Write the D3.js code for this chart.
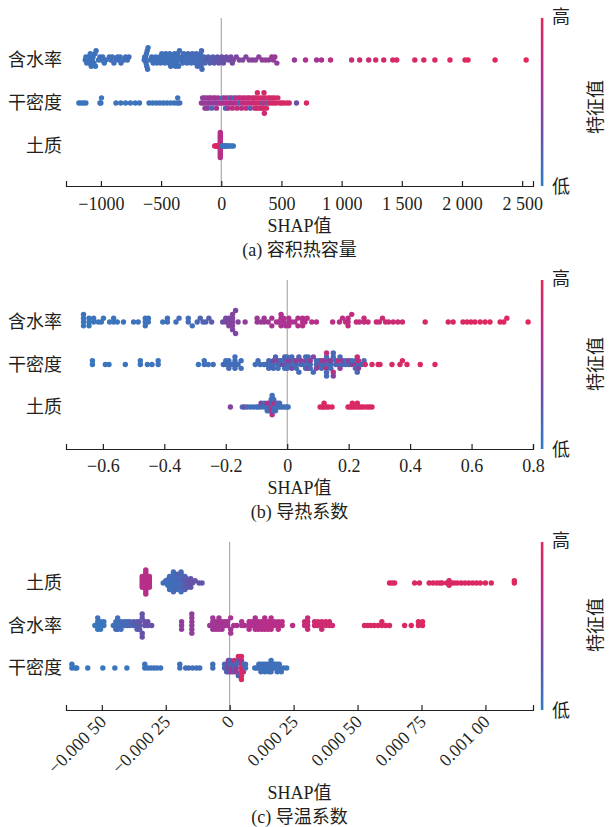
<!DOCTYPE html>
<html><head><meta charset="utf-8">
<script src="https://cdn.jsdelivr.net/npm/d3@7"></script>
<style>
body{margin:0;background:#fff;}
svg text{font-family:"Liberation Serif","Noto Sans CJK SC",serif;fill:#231f20;}
.cjk{font-family:"Noto Sans CJK SC","Liberation Serif",sans-serif;}
</style></head><body>
<svg id="chart" width="609" height="827"></svg>
<script>
// ---------------- categories ----------------
const featA = ["含水率","干密度","土质"];
const featB = ["含水率","干密度","土质"];
const featC = ["土质","含水率","干密度"];

// ---------------- panel (a) 容积热容量: [SHAP value, feature value 0..1] ----------------
const aWater = [[-1130,.08],[-1125,.05],[-1118,.1],[-1110,.07],[-1102,.06],[-1095,.09],[-1088,.05],[-1080,.08],[-1072,.1],[-1065,.06],[-1058,.07],[-1050,.09],[-1045,.05],[-1040,.08],
[-1020,.08],[-1008,.1],[-995,.06],[-985,.09],[-972,.07],[-960,.1],
[-930,.08],[-918,.06],[-905,.1],[-892,.09],
[-875,.1],[-862,.07],[-850,.11],[-840,.08],[-833,.1],
[-808,.09],[-795,.11],[-780,.1],[-767,.12],
[-640,.08],[-636,.1],[-632,.09],[-628,.09],[-625,.1],[-622,.08],[-619,.08],[-615,.1],[-612,.1],[-608,.09],
[-590,.08],[-578,.1],[-566,.08],[-555,.09],[-545,.1],[-535,.08],[-524,.1],[-513,.09],[-503,.08],[-494,.1],[-485,.09],[-476,.08],[-468,.1],[-460,.09],[-452,.08],[-444,.1],[-436,.09],[-428,.08],[-420,.1],[-412,.09],[-404,.1],[-396,.08],[-388,.1],[-380,.09],[-376,.1],[-372,.08],[-368,.1],[-362,.11],[-355,.09],[-347,.1],[-338,.09],[-330,.11],[-321,.1],[-312,.12],[-303,.1],[-294,.11],[-285,.1],[-276,.12],[-268,.1],[-259,.12],[-250,.11],[-241,.13],[-232,.12],[-224,.12],[-215,.11],[-207,.13],[-198,.12],[-190,.13],[-182,.12],[-175,.14],[-172,.12],[-168,.14],[-164,.13],[-160,.14],[-152,.15],[-144,.14],[-136,.16],
[-120,.2],[-108,.22],[-95,.18],[-82,.25],[-70,.22],[-58,.28],[-45,.25],[-32,.28],[-20,.3],[-8,.28],[5,.32],[18,.3],[30,.35],[42,.32],
[62,.35],[80,.4],[92,.38],[100,.42],[125,.4],[150,.45],[178,.42],[205,.45],[232,.48],[258,.45],[285,.5],[312,.48],[340,.5],[368,.52],[395,.5],[420,.55],[432,.52],[445,.55],[462,.5],
[608,.55],[700,.68],[792,.6],[833,.65],[908,.75],[1083,.8],[1150,.85],[1225,.82],[1283,.9],[1350,.88],[1425,.9],[1458,.92],[1608,.93],[1683,.95],[1775,.95],[1900,.96],[2025,.97],[2050,.97],[2275,.98],[2533,1]];

const aDensity = [[-1183,.05],[-1165,.06],[-1145,.05],[-1125,.07],
[-1008,.06],[-1000,.08],[-995,.05],
[-875,.06],[-835,.08],[-795,.06],[-755,.07],[-715,.06],[-680,.08],
[-600,.07],[-570,.08],[-540,.06],[-510,.09],[-480,.07],[-450,.08],[-420,.06],[-390,.09],[-365,.08],[-362,.07],[-345,.1],
[-165,.5],[-155,.45],[-150,.55],[-140,.5],[-135,.48],[-128,.52],[-120,.55],[-115,.5],[-108,.6],[-100,.55],[-95,.5],[-88,.58],[-80,.15],[-72,.55],[-65,.6],[-55,.5],[-48,.62],[-40,.6],[-35,.55],[-25,.58],[-15,.6],
[0,.62],[10,.1],[20,.65],[28,.6],[35,.15],[42,.7],[50,.68],[55,.6],[62,.72],[70,.1],[78,.65],[85,.7],[92,.75],[100,.68],[108,.12],[115,.7],[122,.72],[130,.78],[138,.7],[145,.75],[152,.15],[160,.8],[168,.72],[175,.78],[182,.8],[190,.7],[198,.82],[205,.78],[212,.85],[220,.8],[228,.75],[235,.85],[242,.2],[250,.82],[258,.88],[265,.85],[272,.8],[280,.9],[285,.85],[290,.88],[295,.82],[300,.9],[305,.85],[312,.92],[318,.88],[325,.9],[332,.85],[338,.92],[345,.3],[350,.9],[352,.88],[355,.92],[358,.85],[362,.9],[368,.88],[375,.92],[382,.15],[390,.9],[398,.88],[405,.92],[415,.9],[425,.85],[435,.92],[445,.9],[455,.88],[470,.92],[485,.9],[500,.95],[520,.9],[545,.92],[565,.88],[625,.35],[708,.95]];

const aSoil = [[-8,.7],[-8,.72],[-8,.68],[-8,.7],[-8,.71],[-8,.69],[-8,.7],[-8,.72],[-8,.7],[-8,.68],[-8,.7],[-8,.71],[-8,.7],[-8,.69],
[-55,.95],[-45,.95],[-40,.9],[-35,.95],[-28,.92],[-22,.95],[-15,.9],
[8,.05],[15,.05],[22,.08],[30,.05],[38,.05],[45,.05],[55,.08],[70,.05],[85,.05],[100,.05]];

// ---------------- panel (b) 导热系数 ----------------
const bWater = [[-0.663,.05],[-0.663,.06],[-0.663,.04],[-0.663,.07],
[-0.645,.05],[-0.645,.06],[-0.645,.05],[-0.63,.06],[-0.63,.07],
[-0.615,.05],[-0.605,.07],[-0.598,.06],
[-0.578,.06],[-0.565,.05],[-0.565,.08],[-0.553,.06],
[-0.533,.07],
[-0.5,.08],[-0.485,.07],[-0.462,.06],[-0.462,.07],[-0.462,.08],[-0.452,.08],[-0.452,.07],
[-0.405,.08],[-0.39,.1],[-0.39,.09],
[-0.362,.1],[-0.352,.12],
[-0.322,.12],[-0.322,.11],[-0.309,.1],
[-0.293,.15],[-0.283,.18],[-0.274,.16],[-0.265,.2],[-0.255,.22],[-0.246,.25],
[-0.21,.35],[-0.2,.4],[-0.2,.38],[-0.19,.42],[-0.19,.4],[-0.19,.43],[-0.178,.45],[-0.178,.44],[-0.178,.46],[-0.178,.45],[-0.178,.43],[-0.168,.4],[-0.168,.42],[-0.16,.45],
[-0.137,.5],
[-0.098,.55],[-0.098,.56],[-0.085,.55],[-0.075,.58],[-0.075,.57],[-0.062,.6],[-0.05,.6],[-0.05,.61],
[-0.035,.65],[-0.028,.62],[-0.02,.65],[-0.02,.64],[-0.02,.66],[-0.012,.63],[-0.012,.64],[-0.005,.66],[0.005,.65],[0.005,.66],[0.005,.64],[0.015,.68],[0.025,.65],
[0.035,.68],[0.035,.67],[0.05,.7],[0.05,.69],[0.05,.71],[0.058,.68],
[0.065,.7],[0.08,.72],[0.095,.7],
[0.148,.72],
[0.17,.75],[0.18,.74],[0.19,.76],[0.198,.75],[0.198,.74],[0.198,.76],[0.21,.77],[0.225,.76],[0.235,.78],[0.25,.78],[0.25,.79],[0.263,.8],
[0.29,.82],[0.3,.82],[0.31,.84],[0.32,.83],[0.33,.85],[0.345,.84],[0.36,.86],[0.375,.85],
[0.449,.9],
[0.524,.92],[0.54,.92],
[0.572,.95],[0.585,.94],[0.598,.95],[0.611,.95],[0.628,.96],[0.644,.95],[0.66,.96],
[0.693,.95],[0.705,.96],[0.715,.97],
[0.784,1]];

const bDensity = [[-0.634,.05],[-0.634,.06],[-0.592,.06],[-0.58,.05],[-0.527,.06],
[-0.478,.07],[-0.478,.06],[-0.455,.06],[-0.44,.08],[-0.42,.07],[-0.42,.06],
[-0.289,.08],[-0.27,.1],[-0.27,.09],[-0.257,.08],[-0.241,.1],
[-0.208,.1],[-0.2,.12],[-0.2,.1],[-0.19,.1],[-0.19,.11],[-0.19,.12],[-0.18,.12],[-0.17,.1],[-0.17,.11],[-0.17,.12],[-0.17,.1],[-0.16,.12],[-0.15,.1],[-0.15,.11],
[-0.104,.1],[-0.095,.12],[-0.088,.1],
[-0.075,.12],[-0.068,.1],[-0.06,.15],[-0.06,.12],[-0.052,.12],[-0.045,.1],[-0.045,.4],[-0.045,.15],[-0.038,.15],[-0.03,.12],[-0.03,.45],[-0.03,.1],[-0.022,.1],[-0.022,.18],[-0.015,.4],[-0.015,.12],[-0.008,.12],[-0.008,.2],[0,.15],[0,.5],[0,.1],[0,.12],[0.008,.12],[0.008,.45],[0.015,.4],[0.015,.15],[0.022,.1],[0.022,.15],[0.03,.15],[0.03,.5],[0.03,.12],[0.038,.2],[0.038,.12],[0.045,.15],[0.045,.5],
[0.052,.12],[0.06,.45],[0.06,.15],[0.06,.12],[0.068,.1],[0.068,.15],[0.068,.45],[0.068,.12],[0.075,.12],[0.075,.5],[0.075,.15],[0.085,.45],[0.085,.12],[0.095,.12],[0.095,.15],[0.095,.45],[0.105,.5],[0.105,.12],[0.112,.12],[0.112,.6],[0.112,.15],[0.12,.15],[0.12,.5],[0.128,.7],[0.128,.12],[0.128,.15],[0.128,.75],[0.128,.12],[0.135,.15],[0.135,.5],[0.142,.1],[0.142,.45],[0.142,.12],[0.15,.12],[0.15,.75],[0.15,.15],[0.15,.45],[0.158,.2],[0.158,.12],[0.165,.12],[0.165,.75],[0.172,.5],[0.172,.15],[0.18,.12],[0.18,.45],[0.19,.15],[0.19,.12],[0.2,.12],[0.2,.5],[0.21,.45],[0.21,.12],[0.222,.7],[0.222,.15],[0.222,.12],[0.228,.8],[0.228,.15],[0.232,.12],[0.232,.8],[0.232,.45],[0.242,.15],[0.25,.12],
[0.254,.88],[0.276,.9],[0.296,.92],[0.302,.9],[0.341,.93],[0.367,.92],[0.375,.95],[0.39,.93],[0.433,.95],[0.481,.96]];

const bSoil = [[-0.185,.45],[-0.146,.1],[-0.138,.4],[-0.13,.1],[-0.12,.1],[-0.11,.12],[-0.1,.1],[-0.094,.1],[-0.085,.1],[-0.085,.45],[-0.075,.1],[-0.075,.12],[-0.065,.1],[-0.065,.6],[-0.065,.12],[-0.058,.1],[-0.058,.7],[-0.058,.12],[-0.052,.1],[-0.052,.7],[-0.052,.15],[-0.052,.1],[-0.049,.7],[-0.049,.1],[-0.049,.72],[-0.049,.12],[-0.049,.7],[-0.049,.1],[-0.044,.1],[-0.044,.7],[-0.044,.12],[-0.044,.1],[-0.038,.1],[-0.038,.68],[-0.038,.12],[-0.032,.1],[-0.032,.12],[-0.025,.1],[-0.025,.12],[-0.018,.1],[-0.01,.12],[-0.003,.1],[0.003,.1],
[0.107,.92],[0.115,.93],[0.12,.92],[0.12,.95],[0.128,.93],[0.135,.92],[0.146,.94],[0.198,.92],[0.205,.93],[0.212,.92],[0.212,.95],[0.22,.93],[0.228,.94],[0.228,.92],[0.235,.93],[0.242,.95],[0.25,.92],[0.26,.93],[0.268,.94],[0.276,.92]];

// ---------------- panel (c) 导温系数 ----------------
const cSoil = [[-3.42e-4,.7],[-3.42e-4,.71],[-3.42e-4,.69],[-3.42e-4,.7],[-3.42e-4,.72],[-3.42e-4,.7],
[-3.28e-4,.72],[-3.28e-4,.7],[-3.28e-4,.71],[-3.28e-4,.72],[-3.28e-4,.7],[-3.28e-4,.69],[-3.28e-4,.72],[-3.28e-4,.7],[-3.28e-4,.71],[-3.28e-4,.72],[-3.28e-4,.7],[-3.28e-4,.71],
[-3.14e-4,.7],[-3.14e-4,.71],[-3.14e-4,.69],[-3.14e-4,.7],[-3.14e-4,.72],[-3.14e-4,.7],
[-2.6e-4,.08],[-2.5e-4,.1],[-2.46e-4,.1],[-2.42e-4,.08],[-2.42e-4,.1],[-2.38e-4,.12],[-2.35e-4,.1],[-2.35e-4,.12],[-2.35e-4,.08],[-2.3e-4,.1],[-2.28e-4,.1],[-2.28e-4,.12],[-2.28e-4,.1],[-2.27e-4,.1],[-2.24e-4,.12],[-2.2e-4,.12],[-2.2e-4,.1],[-2.2e-4,.15],[-2.2e-4,.1],[-2.16e-4,.1],[-2.12e-4,.12],[-2.12e-4,.1],[-2.12e-4,.14],[-2.1e-4,.15],[-2.08e-4,.12],[-2.05e-4,.12],[-2.05e-4,.2],[-2.02e-4,.1],[-1.98e-4,.12],[-1.98e-4,.1],[-1.98e-4,.15],[-1.95e-4,.18],[-1.92e-4,.1],[-1.9e-4,.12],[-1.9e-4,.22],[-1.9e-4,.1],[-1.9e-4,.15],[-1.86e-4,.12],[-1.82e-4,.2],[-1.82e-4,.12],[-1.82e-4,.25],[-1.8e-4,.2],[-1.75e-4,.15],[-1.75e-4,.22],[-1.72e-4,.25],[-1.68e-4,.25],[-1.68e-4,.28],[-1.68e-4,.22],[-1.65e-4,.22],[-1.6e-4,.25],[-1.6e-4,.3],[-1.58e-4,.28],[-1.52e-4,.3],[-1.52e-4,.28],[-1.45e-4,.3],[-1.35e-4,.3],[-1.2e-4,.28],[-1.08e-4,.28],
[6.25e-4,.95],[6.35e-4,.93],[6.45e-4,.95],[7.23e-4,.94],[7.42e-4,.95],[7.8e-4,.93],[7.95e-4,.95],[8.1e-4,.94],[8.22e-4,.95],[8.3e-4,.93],[8.48e-4,.95],[8.58e-4,.94],[8.58e-4,.95],[8.67e-4,.93],[8.78e-4,.95],[8.9e-4,.94],[9.05e-4,.95],[9.2e-4,.93],[9.35e-4,.95],[9.5e-4,.94],[9.65e-4,.95],[9.8e-4,.96],[1.0e-3,.95],[1.023e-3,.96],[1.113e-3,.97],[1.113e-3,.96]];

const cWater = [[-5.27e-4,.05],[-5.16e-4,.05],[-5.16e-4,.06],[-5.16e-4,.05],[-5.16e-4,.07],[-5.05e-4,.05],[-5.05e-4,.06],[-5.05e-4,.05],[-4.92e-4,.06],[-4.92e-4,.05],
[-4.55e-4,.1],[-4.45e-4,.1],[-4.45e-4,.12],[-4.38e-4,.1],[-4.38e-4,.11],[-4.38e-4,.12],[-4.38e-4,.1],[-4.25e-4,.1],[-4.25e-4,.12],[-4.25e-4,.11],[-4.12e-4,.12],[-4.12e-4,.14],[-4.0e-4,.15],[-4.0e-4,.12],[-3.9e-4,.15],[-3.9e-4,.18],
[-3.75e-4,.2],[-3.75e-4,.22],[-3.62e-4,.2],[-3.62e-4,.25],[-3.62e-4,.22],[-3.52e-4,.25],[-3.52e-4,.28],[-3.52e-4,.25],[-3.42e-4,.28],[-3.42e-4,.3],[-3.42e-4,.28],[-3.42e-4,.3],[-3.32e-4,.3],[-3.32e-4,.32],[-3.2e-4,.3],[-3.2e-4,.32],[-3.05e-4,.32],
[-1.88e-4,.5],[-1.88e-4,.52],[-1.88e-4,.5],[-1.48e-4,.5],[-1.48e-4,.52],[-1.48e-4,.5],[-1.48e-4,.53],[-1.48e-4,.5],[-1.48e-4,.52],
[-7.8e-5,.55],[-6.6e-5,.58],[-6.6e-5,.6],[-6.6e-5,.55],[-6.6e-5,.58],[-5.4e-5,.6],[-5.4e-5,.58],[-5.4e-5,.6],[-4.2e-5,.6],[-4.2e-5,.62],[-4.2e-5,.6],[-4.2e-5,.58],[-3.0e-5,.6],[-3.0e-5,.62],[-3.0e-5,.6],[-1.8e-5,.62],[-1.8e-5,.6],
[-8e-6,.62],[-8e-6,.6],[4e-6,.6],[4e-6,.62],[4e-6,.6],[1.6e-5,.62],[2.8e-5,.62],[4.7e-5,.62],[4.7e-5,.64],
[5.9e-5,.65],[7.6e-5,.65],[7.6e-5,.66],[7.6e-5,.65],[8.8e-5,.66],[8.8e-5,.65],[1.0e-4,.65],[1.0e-4,.66],[1.0e-4,.67],[1.0e-4,.65],[1.12e-4,.66],[1.12e-4,.65],[1.12e-4,.67],
[1.25e-4,.7],[1.25e-4,.68],[1.25e-4,.7],[1.37e-4,.7],[1.37e-4,.71],[1.37e-4,.7],[1.37e-4,.69],[1.5e-4,.7],[1.5e-4,.72],[1.5e-4,.7],[1.62e-4,.7],[1.62e-4,.72],[1.62e-4,.7],[1.62e-4,.71],[1.75e-4,.72],[1.75e-4,.7],[1.9e-4,.72],[1.9e-4,.7],[1.9e-4,.73],[2.05e-4,.72],[2.05e-4,.73],
[2.46e-4,.72],
[2.93e-4,.8],[2.93e-4,.82],[3.05e-4,.8],[3.05e-4,.82],[3.05e-4,.81],[3.05e-4,.8],
[3.32e-4,.85],[3.32e-4,.84],[3.45e-4,.85],[3.45e-4,.86],[3.6e-4,.85],[3.6e-4,.86],[3.6e-4,.84],[3.75e-4,.86],[3.75e-4,.85],[3.9e-4,.86],[3.9e-4,.87],[4.02e-4,.86],
[5.27e-4,.92],[5.4e-4,.92],[5.52e-4,.93],[5.65e-4,.92],[5.8e-4,.93],[5.95e-4,.92],[5.95e-4,.93],[6.1e-4,.93],[6.25e-4,.92],
[6.84e-4,.95],[7.1e-4,.95],[7.38e-4,.95],[7.38e-4,.96],[7.54e-4,.95],[7.54e-4,.96]];

const cDensity = [[-6.17e-4,.05],[-6.17e-4,.06],[-6.05e-4,.05],[-5.98e-4,.05],
[-5.55e-4,.05],[-4.96e-4,.05],[-4.49e-4,.06],[-4.02e-4,.05],
[-3.32e-4,.08],[-3.32e-4,.07],[-3.2e-4,.08],[-3.08e-4,.07],[-2.96e-4,.08],[-2.84e-4,.07],[-2.7e-4,.08],
[-1.95e-4,.1],[-1.95e-4,.09],[-1.72e-4,.1],[-1.6e-4,.1],[-1.45e-4,.1],[-1.3e-4,.1],[-1.17e-4,.1],
[-6.6e-5,.1],[-6.6e-5,.12],
[-2e-5,.15],[-2e-5,.12],[-1.2e-5,.2],[-1.2e-5,.18],[-1.2e-5,.22],[-5e-6,.45],[-5e-6,.4],[-5e-6,.2],[-5e-6,.5],[2e-6,.3],[2e-6,.15],[2e-6,.35],[2e-6,.2],[1e-5,.6],[1e-5,.2],[1e-5,.65],[1.8e-5,.2],[1.8e-5,.15],[1.8e-5,.25],[1.8e-5,.8],[2.6e-5,.5],[2.6e-5,.15],[2.6e-5,.55],[3.4e-5,.25],[3.4e-5,.2],[3.4e-5,.9],[4.6e-5,.95],[4.6e-5,.93],[4.6e-5,.95],[4.6e-5,.7],[4.6e-5,.95],[4.6e-5,.92],[4.6e-5,.96],[5.4e-5,.8],[5.4e-5,.15],[5.4e-5,.85],[6.2e-5,.1],[6.2e-5,.12],
[9.8e-5,.08],[1.06e-4,.08],[1.14e-4,.1],[1.14e-4,.08],[1.22e-4,.08],[1.22e-4,.1],[1.22e-4,.07],[1.3e-4,.08],[1.3e-4,.1],[1.38e-4,.08],[1.38e-4,.09],[1.38e-4,.1],[1.46e-4,.08],[1.46e-4,.1],[1.54e-4,.08],[1.54e-4,.09],[1.54e-4,.1],[1.62e-4,.08],[1.62e-4,.1],[1.62e-4,.09],[1.62e-4,.08],[1.7e-4,.1],[1.7e-4,.08],[1.78e-4,.08],[1.78e-4,.1],[1.86e-4,.08],[1.86e-4,.09],[1.86e-4,.1],[1.94e-4,.08],[1.94e-4,.1],[2.02e-4,.08],[2.1e-4,.1],[2.23e-4,.08]];

// ---------------- ticks ----------------
const ticksA = [-1000,-500,0,500,1000,1500,2000,2500];
const tickTextA = ["\u22121000","\u2212500","0","500","1 000","1 500","2 000","2 500"];
const ticksB = [-0.6,-0.4,-0.2,0,0.2,0.4,0.6,0.8];
const tickTextB = ["\u22120.6","\u22120.4","\u22120.2","0","0.2","0.4","0.6","0.8"];
const ticksC = [-0.0005,-0.00025,0,0.00025,0.0005,0.00075,0.001];
const tickTextC = ["\u22120.000 50","\u22120.000 25","0","0.000 25","0.000 50","0.000 75","0.001 00"];

// ---------------- drawing ----------------
const svg = d3.select("#chart");
const color = d3.scaleLinear().domain([0, .33, .66, 1])
  .range(["#2f7dc2", "#6b4fa6", "#b0308f", "#e3275a"]).interpolate(d3.interpolateRgb);

const panels = [
  {feats: featA, rows: [aWater, aDensity, aSoil], domain: [-1290, 2590], ticks: ticksA, tickText: tickTextA,
   top: 18, axisY: 186, rowRange: [60, 146], caption: "(a) 容积热容量", rotate: false, pad: 11, xl: 40, cap: 64, cbLabelY: 107},
  {feats: featB, rows: [bWater, bDensity, bSoil], domain: [-0.72, 0.8], ticks: ticksB, tickText: tickTextB,
   top: 280, axisY: 449, rowRange: [322, 407], caption: "(b) 导热系数", rotate: false, pad: 10, xl: 39, cap: 63, cbLabelY: 364},
  {feats: featC, rows: [cSoil, cWater, cDensity], domain: [-0.00064, 0.001186], ticks: ticksC, tickText: tickTextC,
   top: 542, axisY: 710, rowRange: [583, 668], caption: "(c) 导温系数", rotate: true, pad: 11, xl: 83, cap: 107, cbLabelY: 625}
];

// shap-style beeswarm offsets (binning + alternating layers)
function swarm(vals, unitPx) {
  const n = vals.length, mn = d3.min(vals), mx = d3.max(vals);
  const q = vals.map(v => Math.round(100 * (v - mn) / (mx - mn + 1e-12)));
  const inds = d3.range(n).sort((a, b) => q[a] - q[b] || a - b);
  const ys = new Array(n).fill(0);
  let layer = 0, last = -1;
  for (const i of inds) {
    if (q[i] !== last) layer = 0;
    ys[i] = Math.ceil(layer / 2) * ((layer % 2) * 2 - 1);
    layer++; last = q[i];
  }
  const m = d3.max(ys) + 1;
  return ys.map(y => y * 0.9 * 0.4 / m * unitPx);
}

const defs = svg.append("defs");
const grad = defs.append("linearGradient").attr("id", "cbar").attr("x1", 0).attr("y1", 1).attr("x2", 0).attr("y2", 0);
d3.range(0, 1.0001, 0.1).forEach(t => grad.append("stop").attr("offset", t).attr("stop-color", color(t)));

panels.forEach(p => {
  const g = svg.append("g");
  const x = d3.scaleLinear().domain(p.domain).range([66, 533]);
  const y = d3.scalePoint().domain(p.feats).range(p.rowRange);
  const unit = (p.rowRange[1] - p.rowRange[0]) / 2;

  // zero line
  g.append("line").attr("x1", x(0)).attr("x2", x(0)).attr("y1", p.top).attr("y2", p.axisY)
    .attr("stroke", "#9a9a9a").attr("stroke-width", 1);

  // dots
  p.feats.forEach((f, fi) => {
    const data = p.rows[fi];
    const offs = swarm(data.map(d => d[0]), unit);
    g.append("g").selectAll("circle").data(data).join("circle")
      .attr("cx", d => x(d[0]))
      .attr("cy", (d, i) => y(f) - offs[i])
      .attr("r", 2.7)
      .attr("fill", d => color(d[1]));
  });

  // row labels
  g.append("g").selectAll("text").data(p.feats).join("text")
    .attr("class", "cjk")
    .attr("x", 62).attr("y", d => y(d)).attr("dy", "0.36em")
    .attr("text-anchor", "end").attr("font-size", 18).text(d => d);

  // x axis
  const axis = d3.axisBottom(x).tickValues(p.ticks).tickFormat((d, i) => p.tickText[i])
    .tickSizeInner(-5).tickSizeOuter(-5).tickPadding(p.pad);
  const ax = g.append("g").attr("transform", `translate(0,${p.axisY})`).call(axis);
  ax.select(".domain").attr("stroke", "#231f20").attr("stroke-width", 1.2);
  ax.selectAll(".tick line").attr("stroke", "#231f20").attr("stroke-width", 1.2);
  ax.selectAll(".tick text").attr("font-size", 18).attr("fill", "#231f20")
    .attr("font-family", "Liberation Serif");
  if (p.rotate) {
    ax.selectAll(".tick text").attr("text-anchor", "end").attr("dy", null)
      .attr("y", null).attr("transform", "translate(5,13) rotate(-45)");
  }

  // axis label & caption
  g.append("text").attr("x", 299.5).attr("y", p.axisY + p.xl).attr("dy", "0.36em")
    .attr("text-anchor", "middle").attr("font-size", 18).text("SHAP值");
  g.append("text").attr("x", 299.5).attr("y", p.axisY + p.cap).attr("dy", "0.36em")
    .attr("text-anchor", "middle").attr("font-size", 18).text(p.caption);

  // colour bar
  g.append("rect").attr("x", 540.8).attr("y", p.top).attr("width", 2.6).attr("height", p.axisY - p.top)
    .attr("fill", "url(#cbar)");
  g.append("text").attr("class", "cjk").attr("x", 561).attr("y", p.top - 1).attr("dy", "0.36em")
    .attr("text-anchor", "middle").attr("font-size", 18).text("高");
  g.append("text").attr("class", "cjk").attr("x", 561).attr("y", p.axisY + 1).attr("dy", "0.36em")
    .attr("text-anchor", "middle").attr("font-size", 18).text("低");
  g.append("text").attr("class", "cjk").attr("transform", `translate(596,${p.cbLabelY}) rotate(-90)`)
    .attr("dy", "0.36em").attr("text-anchor", "middle").attr("font-size", 18).text("特征值");
});
</script>
</body></html>
